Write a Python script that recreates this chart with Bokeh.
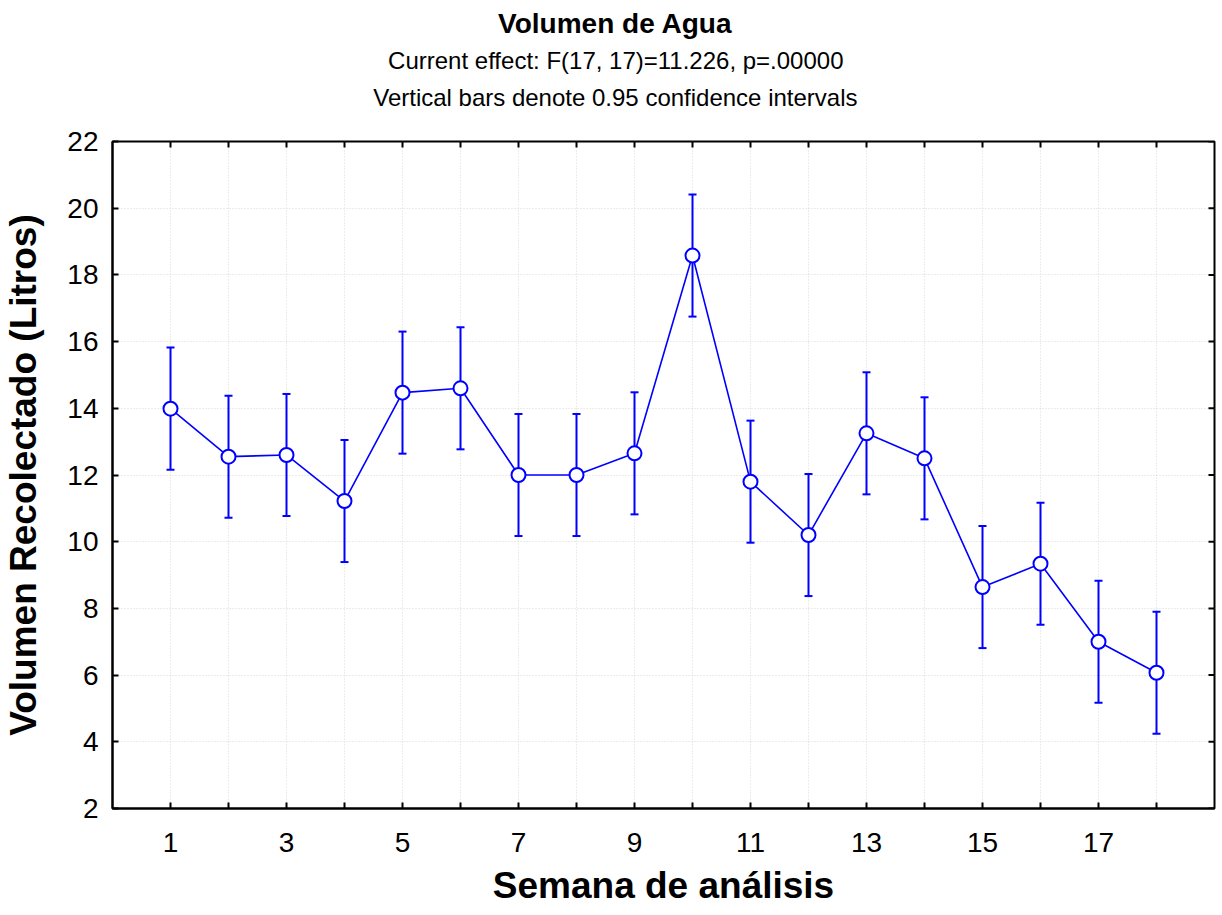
import math
from bokeh.plotting import figure
from bokeh.models import (ColumnDataSource, FixedTicker, LinearAxis, Range1d,
                          Whisker, TeeHead, Title)
from bokeh.embed import file_html
from bokeh.resources import INLINE

# ---- data ----
semana = list(range(1, 19))
volumen = [13.99, 12.55, 12.60, 11.22, 14.47, 14.60, 12.00, 12.00, 12.65,
           18.58, 11.80, 10.20, 13.25, 12.50, 8.64, 9.34, 7.00, 6.07]
ci_half = [1.83] * 18
x_major = [1, 3, 5, 7, 9, 11, 13, 15, 17]
x_minor = [2, 4, 6, 8, 10, 12, 14, 16, 18]
y_ticks = [2, 4, 6, 8, 10, 12, 14, 16, 18, 20, 22]

title = "Volumen de Agua"
sub1 = "Current effect: F(17, 17)=11.226, p=.00000"
sub2 = "Vertical bars denote 0.95 confidence intervals"
xlabel = "Semana de análisis"
ylabel = "Volumen Recolectado (Litros)"

FONT = "Liberation Sans"
BLUE = "#0000FF"
X0, X1, Y0, Y1 = 0, 19, 2, 22

src = ColumnDataSource(dict(
    x=semana, y=volumen,
    lower=[v - h for v, h in zip(volumen, ci_half)],
    upper=[v + h for v, h in zip(volumen, ci_half)],
))

p = figure(frame_width=1102, frame_height=667, title=None,
           x_range=Range1d(X0, X1), y_range=Range1d(Y0, Y1),
           output_backend="svg", toolbar_location=None,
           min_border_left=112, min_border_top=0,
           min_border_right=8, min_border_bottom=104,
           x_axis_location=None, y_axis_location=None)
p.background_fill_color = "white"
p.border_fill_color = "white"
p.outline_line_color = "black"
p.outline_line_width = 2

def style_axis(ax, ticker):
    ax.ticker = ticker
    ax.axis_line_color = "black"
    ax.axis_line_width = 2
    ax.major_tick_in = 6
    ax.major_tick_out = 0
    ax.minor_tick_in = 6
    ax.minor_tick_out = 0
    ax.major_tick_line_width = 2
    ax.minor_tick_line_width = 2
    ax.major_tick_line_color = "black"
    ax.minor_tick_line_color = "black"
    ax.major_label_text_font = FONT
    ax.major_label_text_font_size = "28px"
    ax.major_label_text_color = "black"
    ax.axis_label_text_font = FONT
    ax.axis_label_text_font_size = "37px"
    ax.axis_label_text_font_style = "bold"
    ax.axis_label_text_color = "black"

bottom = LinearAxis(axis_label=xlabel)
style_axis(bottom, FixedTicker(ticks=x_major, minor_ticks=x_minor))
bottom.major_label_standoff = 24
bottom.axis_label_standoff = 10
p.add_layout(bottom, "below")

left = LinearAxis(axis_label=ylabel)
style_axis(left, FixedTicker(ticks=y_ticks))
left.major_label_standoff = 14
left.axis_label_standoff = 20
p.add_layout(left, "left")

# title lines, stacked outward from the frame
# padding is (left, right, top, bottom)
has_padding = "padding" in Title.properties()
specs = [(sub2, "24px", "normal", 10, 357, 26),
         (sub1, "24px", "normal", 4.4, 371, 0),
         (title, "28px", "bold", 10, 482, 0)]
for txt, size, style, stand, off, pad_bottom in specs:
    kw = dict(text=txt, align="right", offset=off, standoff=stand,
              text_font=FONT, text_font_size=size,
              text_font_style=style, text_color="black")
    if has_padding and pad_bottom:
        kw["padding"] = (0, 0, 0, pad_bottom)
    p.add_layout(Title(**kw), "above")

# inward ticks on the top and right frame edges
p.scatter(x=semana, y=[Y1] * len(semana), marker="dash", angle=math.pi / 2,
          size=12, line_color="black", line_width=2)
p.scatter(x=[X1] * len(y_ticks), y=y_ticks, marker="dash",
          size=12, line_color="black", line_width=2)

# grid
p.xgrid.ticker = FixedTicker(ticks=semana)
p.ygrid.ticker = FixedTicker(ticks=y_ticks)
for g in (p.xgrid, p.ygrid):
    g.grid_line_color = "#d9d9d9"
    g.grid_line_dash = "1 2"
    g.grid_line_width = 1

# error bars
wh = Whisker(base="x", lower="lower", upper="upper", source=src,
             line_color=BLUE, line_width=2, level="underlay",
             upper_head=TeeHead(size=8, line_color=BLUE, line_width=2),
             lower_head=TeeHead(size=8, line_color=BLUE, line_width=2))
p.add_layout(wh)

p.line("x", "y", source=src, line_color=BLUE, line_width=1.6)
p.scatter("x", "y", source=src, marker="circle", size=14,
          fill_color="white", line_color=BLUE, line_width=2)

open("out.html", "w").write(file_html(p, INLINE))
